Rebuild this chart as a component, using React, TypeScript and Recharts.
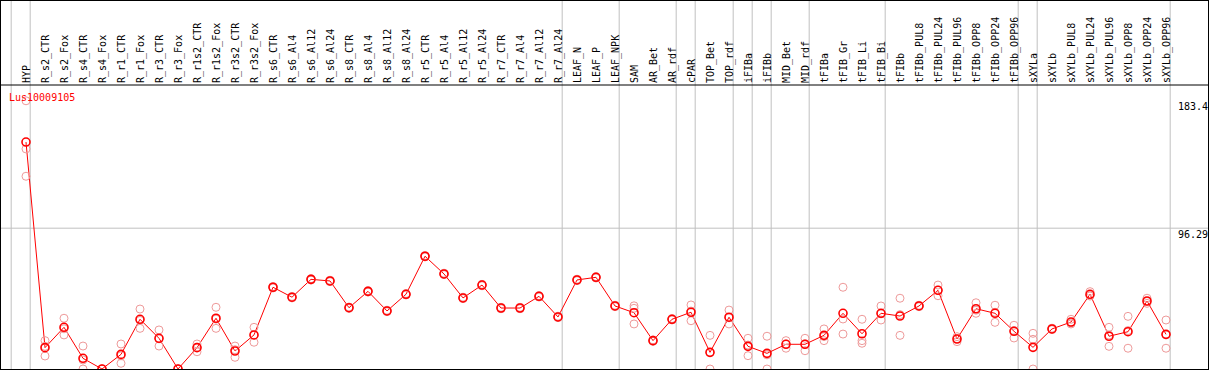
import React from 'react';
import { ComposedChart, Line, XAxis, YAxis, ReferenceLine } from 'recharts';

const categories = [
  'HYP', 'R_s2_CTR', 'R_s2_Fox', 'R_s4_CTR', 'R_s4_Fox', 'R_r1_CTR', 'R_r1_Fox', 'R_r3_CTR', 'R_r3_Fox',
  'R_r1s2_CTR', 'R_r1s2_Fox', 'R_r3s2_CTR', 'R_r3s2_Fox', 'R_s6_CTR', 'R_s6_Al4', 'R_s6_Al12', 'R_s6_Al24',
  'R_s8_CTR', 'R_s8_Al4', 'R_s8_Al12', 'R_s8_Al24', 'R_r5_CTR', 'R_r5_Al4', 'R_r5_Al12', 'R_r5_Al24',
  'R_r7_CTR', 'R_r7_Al4', 'R_r7_Al12', 'R_r7_Al24', 'LEAF_N', 'LEAF_P', 'LEAF_NPK', 'SAM', 'AR_Bet', 'AR_rdf',
  'cPAR', 'TOP_Bet', 'TOP_rdf', 'iFIBa', 'iFIBb', 'MID_Bet', 'MID_rdf', 'tFIBa', 'tFIB_Gr', 'tFIB_Li', 'tFIB_Bi',
  'tFIBb', 'tFIBb_PUL8', 'tFIBb_PUL24', 'tFIBb_PUL96', 'tFIBb_OPP8', 'tFIBb_OPP24', 'tFIBb_OPP96', 'sXYLa',
  'sXYLb', 'sXYLb_PUL8', 'sXYLb_PUL24', 'sXYLb_PUL96', 'sXYLb_OPP8', 'sXYLb_OPP24', 'sXYLb_OPP96',
];

const means = [
  155.2, 14.6, 28.5, 7.3, 0, 10.0, 34.0, 21.0, 0, 14.6, 34.7, 12.3, 23.3, 55.9, 49.1, 61.3, 60.2,
  41.9, 53.1, 39.7, 51.1, 77.1, 65.0, 48.6, 57.4, 41.7, 41.7, 49.7, 35.6, 60.9, 62.7, 43.1, 38.5, 19.4, 34.0,
  38.8, 11.4, 35.4, 15.5, 10.7, 16.9, 16.9, 23.0, 38.1, 24.1, 38.1, 36.2, 43.1, 53.8, 20.5, 41.2, 38.1, 25.8,
  14.8, 27.4, 32.1, 51.1, 22.4, 25.5, 46.5, 23.7,
];

const rep1 = [
  183.4, 19.4, 34.7, 15.7, 0, 17.1, 41.0, 26.7, 0, 17.1, 42.2, 15.7, 28.5, 56.4, 49.6, 61.8, 60.7,
  42.4, 53.6, 40.2, 51.6, 77.6, 65.5, 49.1, 57.9, 42.2, 42.2, 50.2, 36.1, 61.4, 63.2, 43.6, 43.2, 19.9, 34.5,
  43.8, 23.0, 40.3, 21.0, 22.4, 19.4, 21.0, 27.4, 55.9, 34.0, 43.1, 48.4, 43.6, 57.4, 22.1, 45.3, 43.6, 29.9,
  24.4, 27.9, 34.0, 52.9, 28.5, 36.0, 48.4, 33.5,
];

const rep2 = [
  150.5, 15.5, 27.5, 6.2, 0, 9.0, 33.2, 20.6, 0, 14.9, 34.1, 13.2, 23.1, 55.9, 49.1, 61.3, 60.2,
  41.9, 53.1, 39.7, 51.1, 77.1, 65.0, 48.6, 57.4, 41.7, 41.7, 49.7, 35.6, 60.9, 62.7, 43.1, 41.5, 19.4, 34.0,
  39.6, 11.2, 35.0, 16.4, 9.7, 17.1, 17.2, 22.2, 34.2, 19.4, 37.7, 37.2, 43.1, 53.9, 20.7, 40.2, 38.8, 26.3,
  20.3, 27.4, 31.5, 50.5, 23.2, 26.3, 46.2, 23.4,
];

const rep3 = [
  131.8, 8.9, 23.3, 0, 0, 3.9, 27.8, 15.7, 0, 11.8, 27.8, 8.0, 18.3, 55.4, 48.6, 60.8, 59.7,
  41.4, 52.6, 39.2, 50.6, 76.6, 64.5, 48.1, 56.9, 41.2, 41.2, 49.2, 35.1, 60.4, 62.2, 42.6, 30.8, 18.9, 33.5,
  33.0, 0, 30.8, 9.1, 0, 14.2, 12.5, 19.4, 23.9, 17.6, 33.5, 23.0, 42.6, 50.1, 18.7, 38.1, 31.9, 21.2,
  0, 26.9, 30.8, 49.9, 15.5, 14.2, 44.9, 14.2,
];

const yTicks = [0, 96.29, 183.4];
const title = 'Lus10009105';
// index of the last category of each group
const groupEnds = [0, 28, 31, 34, 35, 37, 38, 39, 41, 45, 52, 53, 60];

const W = 1209;
const H = 370;
const HEADER_H = 85;
const BOTTOM_M = 1;
const PLOT_H = H - HEADER_H - BOTTOM_M;
const Y_MAX = 194.2;
const Y_TOP_OF_CHART = (Y_MAX * (H - BOTTOM_M)) / PLOT_H;
const EDGE_OFFSET = 0.22;
const FONT = '"DejaVu Sans Mono", monospace';
const GRID = '#c0c0c0';

const data = categories.map((name, i) => ({
  x: i,
  name,
  mean: means[i],
  r1: rep1[i],
  r2: rep2[i],
  r3: rep3[i],
}));

const edgeLines = [-1 + EDGE_OFFSET, ...groupEnds.map((e) => e + EDGE_OFFSET)];

const CatTick = (props: any) => {
  const { x, payload } = props;
  const label = categories[payload.value];
  return (
    <text
      transform={`translate(${x + 3.5},83) rotate(-90)`}
      textAnchor="start"
      fontFamily={FONT}
      fontSize={10}
      fill="#000"
    >
      {label}
    </text>
  );
};

const YTick = (props: any) => {
  const { y, payload } = props;
  const v = payload.value;
  return (
    <text x={1178} y={y + (v === 0 ? -4 : 9.5)} fontFamily={FONT} fontSize={10} fill="#000" textAnchor="start">
      {String(v)}
    </text>
  );
};

const makeRepDot = (key: string) => (props: any) => {
  const { cx, cy, index } = props;
  if (cx == null || cy == null) return <g key={`${key}-${index}`} />;
  return <circle key={`${key}-${index}`} cx={cx} cy={cy} r={4} fill="none" stroke="#ee9a9a" strokeWidth={1} />;
};

const meanDot = (props: any) => {
  const { cx, cy, index } = props;
  if (cx == null || cy == null) return <g key={`m-${index}`} />;
  return <circle key={`m-${index}`} cx={cx} cy={cy} r={4} fill="none" stroke="#ff0000" strokeWidth={1.6} />;
};

export default function App() {
  return (
    <div style={{ position: 'absolute', left: 0, top: 0, width: W, height: H, background: '#fff' }}>
      <ComposedChart
        width={W}
        height={H}
        data={data}
        margin={{ top: 0, right: 1, bottom: BOTTOM_M, left: 1 }}
      >
        <XAxis
          dataKey="x"
          type="number"
          orientation="top"
          domain={[0, categories.length - 1]}
          ticks={categories.map((_, i) => i)}
          interval={0}
          padding={{ left: 25, right: 42 }}
          height={HEADER_H}
          axisLine={{ stroke: '#000', strokeWidth: 1 }}
          tickLine={false}
          tick={<CatTick />}
        />
        <YAxis
          orientation="right"
          mirror
          domain={[0, Y_MAX]}
          ticks={yTicks}
          axisLine={false}
          tickLine={false}
          tick={<YTick />}
          width={30}
        />
        <ReferenceLine y={96.29} stroke={GRID} strokeWidth={1} ifOverflow="visible" />
        {edgeLines.map((ex) => (
          <ReferenceLine
            key={`edge-${ex}`}
            segment={[
              { x: ex, y: 0 },
              { x: ex, y: Y_TOP_OF_CHART },
            ]}
            stroke={GRID}
            strokeWidth={1}
            ifOverflow="visible"
          />
        ))}
        {(['r1', 'r2', 'r3'] as const).map((k) => (
          <Line
            key={k}
            dataKey={k}
            stroke="none"
            dot={makeRepDot(k)}
            activeDot={false}
            isAnimationActive={false}
            legendType="none"
          />
        ))}
        <Line
          dataKey="mean"
          stroke="#ff0000"
          strokeWidth={1}
          dot={meanDot}
          activeDot={false}
          isAnimationActive={false}
          legendType="none"
        />
      </ComposedChart>
      <svg
        width={W}
        height={H}
        style={{ position: 'absolute', left: 0, top: 0, pointerEvents: 'none' }}
      >
        <text x={9} y={100.5} fontFamily={FONT} fontSize={10} fill="#ff0000">
          {title}
        </text>
      </svg>
      <div
        style={{
          position: 'absolute',
          left: 0,
          top: 0,
          width: W,
          height: H,
          border: '1px solid #000',
          boxSizing: 'border-box',
          pointerEvents: 'none',
        }}
      />
    </div>
  );
}
